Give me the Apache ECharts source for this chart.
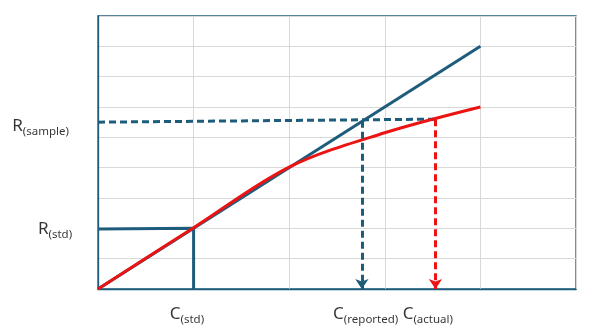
<!DOCTYPE html>
<html>
<head>
<meta charset="utf-8">
<script src="https://cdn.jsdelivr.net/npm/echarts@6/dist/echarts.min.js"></script>
<style>html,body{margin:0;padding:0;background:#fff}#c{width:592px;height:331px}</style>
</head>
<body>
<div id="c"></div>
<script>
// Data (axis units: x 0..5, y 0..9)
const idealX = [0, 4];
const idealY = [0, 8];
const actualX = [0, 1, 2, 3, 4];
const actualY = [0, 2.02, 4.02, 5.15, 6.0];
const stdPath = [[0, 1.98], [1, 2.0], [1, 0]];
const sampleLine = [[0, 5.5], [3.53, 5.6]];
const reportedDrop = [[2.76, 5.55], [2.76, 0]];
const actualDrop = [[3.53, 5.6], [3.53, 0]];
const labels = [
  {name: 'R', sub: '(sample)', pos: [-0.6, 5.42]},
  {name: 'R', sub: '(std)', pos: [-0.45, 2.02]},
  {name: 'C', sub: '(std)', pos: [0.93, -0.78]},
  {name: 'C', sub: '(reported)', pos: [2.80, -0.78]},
  {name: 'C', sub: '(actual)', pos: [3.45, -0.78]}
];

const BLUE = '#1E5C7C';
const RED = '#EC1313';
const FONT = '"Noto Sans", "Liberation Sans", sans-serif';

const chart = echarts.init(document.getElementById('c'));
chart.setOption({
  animation: false,
  grid: {left: 98, top: 16, right: 16, bottom: 42, show: true, borderColor: BLUE, borderWidth: 1.3},
  xAxis: {
    type: 'value', min: 0, max: 5, interval: 1,
    axisLine: {show: true, lineStyle: {color: BLUE, width: 1.3}},
    axisTick: {show: false}, axisLabel: {show: false},
    splitLine: {show: true, lineStyle: {color: '#d9d9d9', width: 1}}
  },
  yAxis: {
    type: 'value', min: 0, max: 9, interval: 1,
    axisLine: {show: true, lineStyle: {color: BLUE, width: 1.3}},
    axisTick: {show: false}, axisLabel: {show: false},
    splitLine: {show: true, lineStyle: {color: '#d9d9d9', width: 1}}
  },
  series: [
    {
      type: 'line', data: idealX.map((x, i) => [x, idealY[i]]),
      showSymbol: false, lineStyle: {color: BLUE, width: 3}, z: 3
    },
    {
      type: 'line', data: stdPath,
      showSymbol: false, lineStyle: {color: BLUE, width: 3}, z: 3
    },
    {
      type: 'line', data: sampleLine,
      showSymbol: false, lineStyle: {color: BLUE, width: 3, type: [7, 4]}, z: 3
    },
    {
      type: 'line', data: actualX.map((x, i) => [x, actualY[i]]),
      smooth: 0.33, showSymbol: false, lineStyle: {color: RED, width: 3}, z: 4
    },
    {
      type: 'lines', coordinateSystem: 'cartesian2d', z: 5,
      symbol: ['none', 'arrow'], symbolSize: [10, 10],
      data: [
        {coords: reportedDrop, lineStyle: {color: BLUE, width: 3, type: [7, 4], opacity: 1}},
        {coords: actualDrop, lineStyle: {color: RED, width: 3, type: [7, 4], opacity: 1}}
      ]
    },
    {
      type: 'scatter', clip: false, symbolSize: 0, silent: true,
      data: labels.map(l => ({value: l.pos, name: l.name})),
      label: {
        show: true, position: 'inside', align: 'center', verticalAlign: 'middle',
        formatter: p => '{m|' + labels[p.dataIndex].name + '}{s|' + labels[p.dataIndex].sub + '}',
        rich: {
          m: {fontSize: 17, fontFamily: FONT, color: '#000', verticalAlign: 'bottom', lineHeight: 20},
          s: {fontSize: 11.5, fontFamily: FONT, color: '#000', verticalAlign: 'bottom', lineHeight: 14, padding: [0, 0, -3, 0]}
        }
      }
    }
  ]
});
</script>
</body>
</html>
